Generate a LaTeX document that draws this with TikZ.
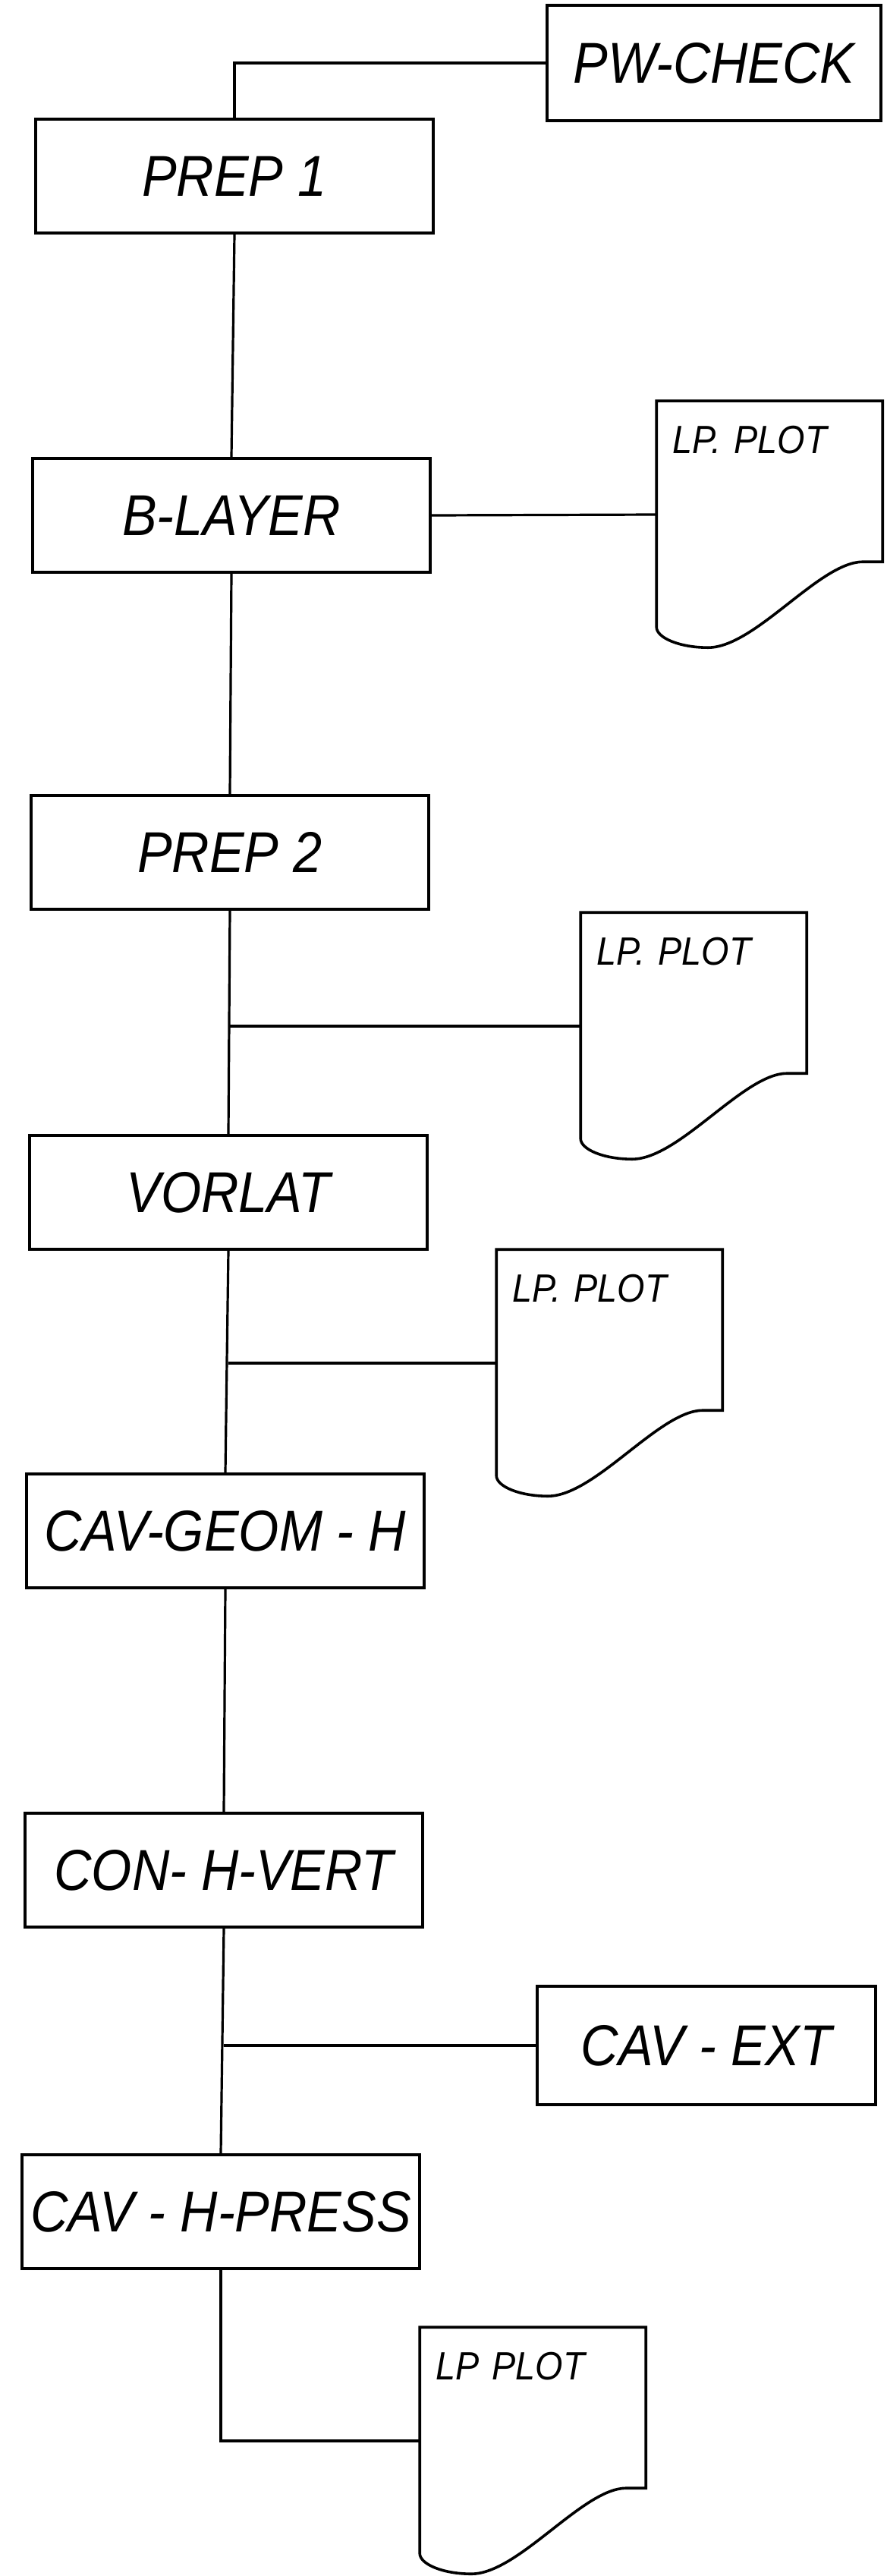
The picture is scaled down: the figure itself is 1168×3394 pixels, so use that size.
\documentclass[tikz,border=0pt]{standalone}
\usepackage{fontspec}
\setmainfont{Liberation Sans}[FakeStretch=0.9]
\usepackage{tikz}

\newcommand{\lpoutline}[1]{%
    \draw[line width=0.9pt, shift={(#1.north west)}] (0,0) -- (298,0) -- (298,212) -- (272,212)
        .. controls (215,212) and (130,325) .. (68,325)
        .. controls (30,325) and (0,312) .. (0,298) -- cycle;}

\begin{document}
\begin{tikzpicture}[x={(0.25pt,0pt)}, y={(0pt,-0.25pt)},
        prog/.style={draw, line width=0.9pt, minimum width=131pt, minimum height=37.5pt,
            inner sep=0pt, font=\fontsize{19}{23}\selectfont\itshape},
        lp/.style={text width=64.5pt, align=left, inner xsep=5pt, inner ysep=0pt,
            text height=17pt, text depth=57.5pt, font=\fontsize{13}{15}\selectfont\itshape},
        link/.style={line width=0.8pt}]
        \useasboundingbox (0,0) rectangle (1168,3394);
        \node[prog, minimum width=110pt, minimum height=38pt] (pw) at (941,83) {PW-CHECK};
        \node[prog] (prep1) at (309,232) {PREP 1};
        \node[prog] (blayer) at (305,679) {B-LAYER};
        \node[prog] (prep2) at (303,1123) {PREP 2};
        \node[prog] (vorlat) at (301,1571) {VORLAT};
        \node[prog] (cavgeom) at (297,2017) {CAV-GEOM - H};
        \node[prog] (conh) at (295,2464) {CON- H-VERT};
        \node[prog] (cavh) at (291,2914) {CAV - H-PRESS};
        \node[prog, minimum width=111.5pt, minimum height=39pt] (cavext) at (931,2695) {CAV - EXT};
        \node[lp] (lp1) at (1015,678) {LP. PLOT};
        \node[lp] (lp2) at (915,1352) {LP. PLOT};
        \node[lp] (lp3) at (804,1796) {LP. PLOT};
        \node[lp] (lp4) at (703,3216) {LP PLOT};
        \lpoutline{lp1}
        \lpoutline{lp2}
        \lpoutline{lp3}
        \lpoutline{lp4}
        \draw[link] (prep1.north) |- (pw.west);
        \draw[link] (prep1.south) -- (blayer.north);
        \draw[link] (blayer.east) -- (lp1.west);
        \draw[link] (blayer.south) -- (prep2.north);
        \draw[link] (prep2.south) -- (vorlat.north);
        \draw[link] (lp2.west) -- (lp2.west -| prep2.south);
        \draw[link] (vorlat.south) -- (cavgeom.north);
        \draw[link] (lp3.west) -- (lp3.west -| vorlat.south);
        \draw[link] (cavgeom.south) -- (conh.north);
        \draw[link] (conh.south) -- (cavh.north);
        \draw[link] (cavext.west) -- (cavext.west -| conh.south);
        \draw[link] (cavh.south) |- (lp4.west);
    \end{tikzpicture}
\end{document}
